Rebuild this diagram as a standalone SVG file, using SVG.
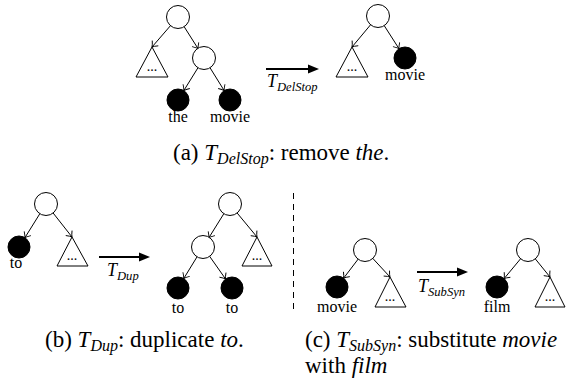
<svg xmlns="http://www.w3.org/2000/svg" width="574" height="381" viewBox="0 0 574 381">
<style>
.o{fill:#fff;stroke:#000;stroke-width:1}
.b{fill:#000;stroke:#000;stroke-width:1}
.t{fill:#fff;stroke:#000;stroke-width:1}
.e{stroke:#000;stroke-width:1;fill:none;marker-end:url(#tip)}
.big{stroke:#000;stroke-width:2;fill:none}
.lab{font-size:16px;text-anchor:middle}
.dots{font-size:14px;text-anchor:middle}
.tl{font-size:18px;font-style:italic}
.cap{font-size:23px}
.i{font-style:italic}
</style>
<defs>
<marker id="tip" markerUnits="userSpaceOnUse" markerWidth="12" markerHeight="12" viewBox="-7 -6 8 12" refX="0" refY="0" orient="auto">
<path d="M-5,-4 Q-2,-1 0,0 Q-2,1 -5,4" fill="none" stroke="#000" stroke-width="0.9"/>
</marker>
</defs>

<g id="connectors">
<line class="e" x1="170.8" y1="25.3" x2="152" y2="47"/>
<line class="e" x1="183.9" y1="26.3" x2="198.1" y2="48.7"/>
<line class="e" x1="198.2" y1="67.4" x2="183.8" y2="90.6"/>
<line class="e" x1="209.8" y1="67.4" x2="224.2" y2="90.6"/>
<line class="e" x1="370.9" y1="24.4" x2="352" y2="47"/>
<line class="e" x1="384" y1="25.3" x2="399" y2="48.7"/>
<line class="e" x1="40.1" y1="213.3" x2="24.9" y2="237.7"/>
<line class="e" x1="52.8" y1="212.6" x2="72" y2="237"/>
<line class="e" x1="224.1" y1="213.3" x2="208.9" y2="237.7"/>
<line class="e" x1="236.8" y1="212.6" x2="257" y2="237"/>
<line class="e" x1="197.3" y1="256.4" x2="183.7" y2="278.6"/>
<line class="e" x1="209.4" y1="256" x2="225.6" y2="279"/>
<line class="e" x1="358.4" y1="258.8" x2="343.6" y2="278.2"/>
<line class="e" x1="372.5" y1="258.1" x2="390" y2="277"/>
<line class="e" x1="520.9" y1="258.4" x2="504.1" y2="278.6"/>
<line class="e" x1="535" y1="258.5" x2="550" y2="277"/>
</g>

<g font-family="Liberation Serif, Times New Roman, serif">
<g id="transforms">
<line class="big" x1="266" y1="69" x2="310" y2="69"/>
<polygon points="319,69 308,64.5 308,73.5"/>
<text class="tl" x="267" y="87">T<tspan font-size="12.6" dy="4">DelStop</tspan></text>
<line class="big" x1="99" y1="257" x2="141" y2="257"/>
<polygon points="150,257 139,252.5 139,261.5"/>
<text class="tl" x="107" y="276">T<tspan font-size="12.6" dy="4">Dup</tspan></text>
<line class="big" x1="417" y1="272" x2="459" y2="272"/>
<polygon points="468,272 457,267.5 457,276.5"/>
<text class="tl" x="418" y="292">T<tspan font-size="12.6" dy="4">SubSyn</tspan></text>
</g>

<g id="a-left">
<circle id="a-l-root" class="o" cx="178" cy="17" r="11.5"/>
<g id="a-l-tri"><polygon class="t" points="152,47 136,77 168,77"/><text class="dots" x="152" y="71">...</text></g>
<circle id="a-l-mid" class="o" cx="204" cy="58" r="11.5"/>
<g id="a-l-the"><circle class="b" cx="178" cy="100" r="11"/><text class="lab" x="178" y="122">the</text></g>
<g id="a-l-movie"><circle class="b" cx="230" cy="100" r="11"/><text class="lab" x="230" y="122">movie</text></g>
</g>

<g id="a-right">
<circle id="a-r-root" class="o" cx="378" cy="16" r="11.5"/>
<g id="a-r-tri"><polygon class="t" points="352,47 336,77 368,77"/><text class="dots" x="352" y="71">...</text></g>
<g id="a-r-movie"><circle class="b" cx="405" cy="58" r="11"/><text class="lab" x="405" y="80">movie</text></g>
</g>

<g id="b-left">
<circle id="b-l-root" class="o" cx="46" cy="204" r="11.5"/>
<g id="b-l-to"><circle class="b" cx="19" cy="247" r="11"/><text class="lab" x="16" y="268">to</text></g>
<g id="b-l-tri"><polygon class="t" points="72,237 57,266 88,266"/><text class="dots" x="72" y="260">...</text></g>
</g>

<g id="b-right">
<circle id="b-r-root" class="o" cx="230" cy="204" r="11.5"/>
<circle id="b-r-mid" class="o" cx="203" cy="247" r="11.5"/>
<g id="b-r-tri"><polygon class="t" points="257,237 242,266 272,266"/><text class="dots" x="257" y="260">...</text></g>
<g id="b-r-to1"><circle class="b" cx="178" cy="288" r="11"/><text class="lab" x="178" y="313">to</text></g>
<g id="b-r-to2"><circle class="b" cx="232" cy="288" r="11"/><text class="lab" x="232" y="313">to</text></g>
</g>

<line id="divider" x1="293.5" y1="193" x2="293.5" y2="310" stroke="#000" stroke-width="1" stroke-dasharray="6,5"/>

<g id="c-left">
<circle id="c-l-root" class="o" cx="365" cy="250" r="11.5"/>
<g id="c-l-movie"><circle class="b" cx="337" cy="287" r="11"/><text class="lab" x="337" y="312">movie</text></g>
<g id="c-l-tri"><polygon class="t" points="390,277 375,307 406,307"/><text class="dots" x="390" y="301">...</text></g>
</g>

<g id="c-right">
<circle id="c-r-root" class="o" cx="528" cy="250" r="11.5"/>
<g id="c-r-film"><circle class="b" cx="497" cy="287" r="11"/><text class="lab" x="497" y="312">film</text></g>
<g id="c-r-tri"><polygon class="t" points="550,277 535,307 565,307"/><text class="dots" x="550" y="301">...</text></g>
</g>

<g id="captions">
<text class="cap" x="173" y="160">(a) <tspan class="i">T</tspan><tspan class="i" font-size="16" dy="4">DelStop</tspan><tspan dy="-4">: remove </tspan><tspan class="i">the</tspan>.</text>
<text class="cap" x="45" y="347">(b) <tspan class="i">T</tspan><tspan class="i" font-size="16" dy="4">Dup</tspan><tspan dy="-4">: duplicate </tspan><tspan class="i">to</tspan>.</text>
<text class="cap" x="305" y="347">(c) <tspan class="i">T</tspan><tspan class="i" font-size="16" dy="4">SubSyn</tspan><tspan dy="-4">: substitute </tspan><tspan class="i">movie</tspan></text>
<text class="cap" x="305" y="373">with <tspan class="i">film</tspan></text>
</g>
</g>
</svg>
